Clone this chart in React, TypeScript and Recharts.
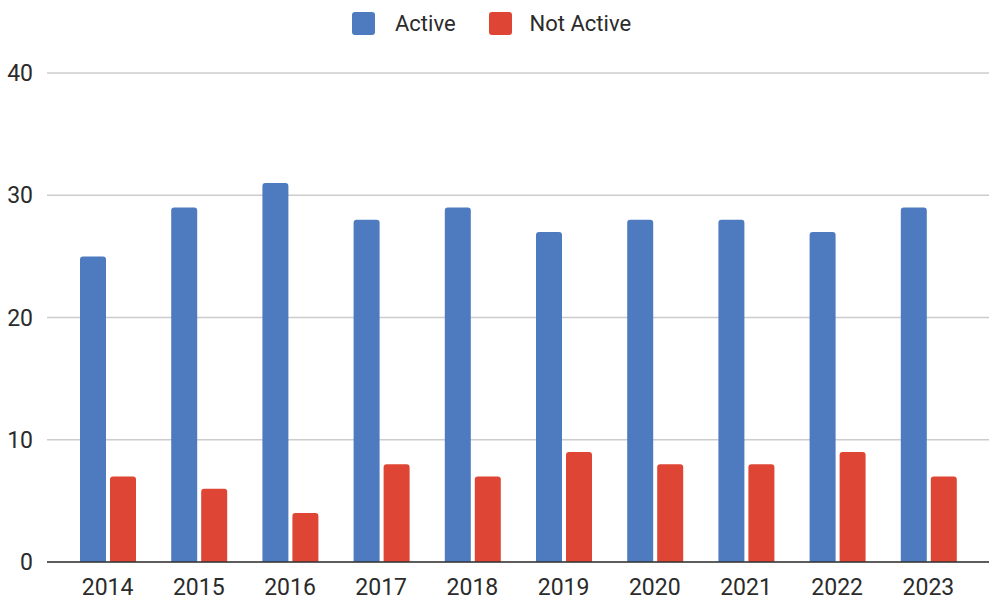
import React from 'react';
import { BarChart, Bar, XAxis, YAxis, CartesianGrid, Legend } from 'recharts';

const years = ['2014', '2015', '2016', '2017', '2018', '2019', '2020', '2021', '2022', '2023'];
const activeValues = [25, 29, 31, 28, 29, 27, 28, 28, 27, 29];
const notActiveValues = [7, 6, 4, 8, 7, 9, 8, 8, 9, 7];
const yTicks = [0, 10, 20, 30, 40];

const seriesNames = ['Active', 'Not Active'];
const seriesColors = ['#4e7ac0', '#de4535'];

const data = years.map((y, i) => ({ year: y, active: activeValues[i], notActive: notActiveValues[i] }));

const FONT = 'Roboto, Arial, sans-serif';
const TEXT = '#2b2b2b';

const renderLegend = () => (
  <div style={{ height: 40, width: 989, display: 'flex', alignItems: 'center', fontFamily: FONT, fontSize: 22, color: TEXT, paddingLeft: 352, boxSizing: 'border-box', paddingTop: 6 }}>
    {seriesNames.map((n, i) => (
      <div key={n} style={{ display: 'flex', alignItems: 'center', marginRight: i === 0 ? 33 : 0 }}>
        <div style={{ width: 23, height: 23, borderRadius: 3, background: seriesColors[i], marginRight: i === 0 ? 20 : 18 }} />
        <span>{n}</span>
      </div>
    ))}
  </div>
);

export default function App() {
  return (
    <div style={{ position: 'absolute', left: 0, top: 0, width: 989, height: 600, background: '#fff' }}>
      <BarChart
        width={989}
        height={600}
        data={data}
        margin={{ top: 33, right: 0, bottom: 0, left: 0 }}
        barSize={26}
        barGap={4}
      >
        <Legend verticalAlign="top" content={renderLegend} wrapperStyle={{ top: 0, left: 0 }} />
        <CartesianGrid vertical={false} stroke="#cccccc" strokeWidth={1.3} />
        <XAxis
          dataKey="year"
          height={38}
          padding={{ left: 15, right: 15 }}
          tickLine={false}
          tickSize={0}
          tickMargin={17}
          axisLine={{ stroke: '#333333', strokeWidth: 1.5 }}
          tick={{ fill: TEXT, fontSize: 23, fontFamily: FONT }}
        />
        <YAxis
          width={47}
          domain={[0, 40]}
          ticks={yTicks}
          axisLine={false}
          tickLine={false}
          tickSize={0}
          tickMargin={14}
          tick={{ fill: TEXT, fontSize: 23, fontFamily: FONT }}
        />
        <Bar dataKey="active" name={seriesNames[0]} fill={seriesColors[0]} radius={[3, 3, 0, 0]} isAnimationActive={false} />
        <Bar dataKey="notActive" name={seriesNames[1]} fill={seriesColors[1]} radius={[3, 3, 0, 0]} isAnimationActive={false} />
      </BarChart>
    </div>
  );
}
